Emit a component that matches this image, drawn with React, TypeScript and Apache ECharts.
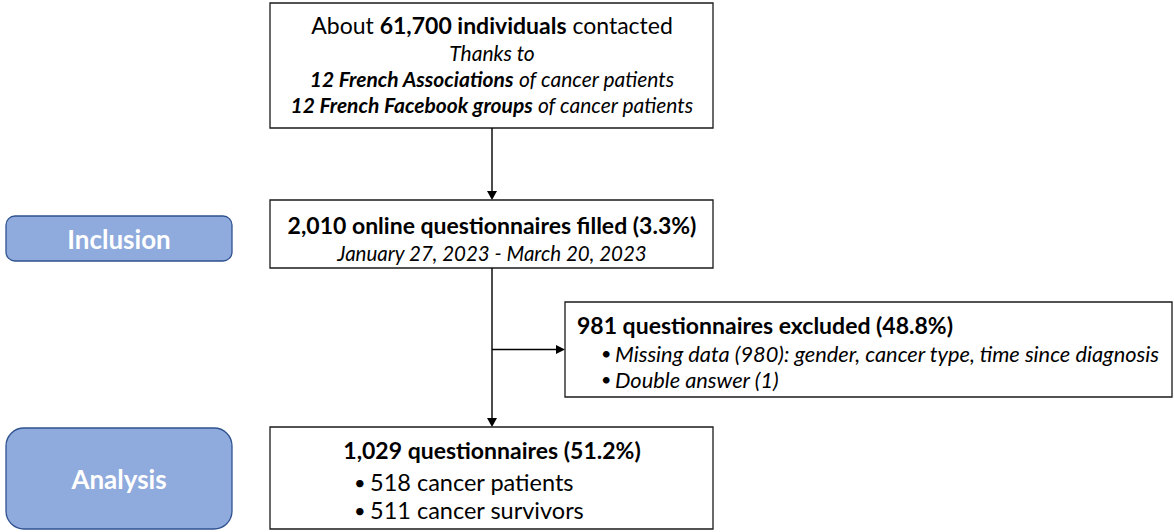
import React, { useEffect, useRef } from "react";
import * as echarts from "echarts";

// ---- Content ----
const topLines = [
  "{n|About }{b|61,700 individuals}{n| contacted}",
  "{i|Thanks to}",
  "{bi|12 French Associations}{i| of cancer patients}",
  "{bi|12 French Facebook groups}{i| of cancer patients}",
];
const inclusionLines = [
  "{b|2,010 online questionnaires filled (3.3%)}",
  "{d|January 27, 2023 - March 20, 2023}",
];
const excludedTitle = "981 questionnaires excluded (48.8%)";
const excludedItems = [
  "Missing data (980): gender, cancer type, time since diagnosis",
  "Double answer (1)",
];
const analysisTitle = "1,029 questionnaires (51.2%)";
const analysisItems = ["518 cancer patients", "511 cancer survivors"];
const stageLabels = ["Inclusion", "Analysis"];

const FONT = "Lato, 'Noto Sans', sans-serif";
const richStyles = {
  n: { fontFamily: FONT, fontSize: 23, fill: "#000", fontWeight: "normal" },
  b: { fontFamily: FONT, fontSize: 23, fill: "#000", fontWeight: "bold" },
  i: { fontFamily: FONT, fontSize: 21, fill: "#000", fontStyle: "italic" },
  d: { fontFamily: FONT, fontSize: 20.5, fill: "#000", fontStyle: "italic" },
  bi: { fontFamily: FONT, fontSize: 21, fill: "#000", fontStyle: "italic", fontWeight: "bold" },
};

function App() {
  const ref = useRef<HTMLDivElement>(null);
  useEffect(() => {
    document.body.style.margin = "0";
    const chart = echarts.init(ref.current!, null, { renderer: "svg" });
    const stroke = "#1a1a1a";
    const box = (x: number, y: number, w: number, h: number) => ({
      type: "rect",
      shape: { x, y, width: w, height: h },
      style: { fill: "#fff", stroke, lineWidth: 1.3 },
    });
    const line = (x1: number, y1: number, x2: number, y2: number) => ({
      type: "line",
      shape: { x1, y1, x2, y2 },
      style: { stroke: "#000", lineWidth: 1.4 },
    });
    const richLine = (txt: string, x: number, y: number, align = "center") => ({
      type: "text",
      x,
      y,
      style: {
        text: txt,
        rich: richStyles,
        align,
        verticalAlign: "middle",
      },
    });
    const plain = (txt: string, x: number, y: number, size: number, opts: any = {}) => ({
      type: "text",
      x,
      y,
      style: {
        text: txt,
        fontFamily: FONT,
        fontSize: size,
        fill: "#000",
        align: "left",
        verticalAlign: "middle",
        ...opts,
      },
    });
    const stage = (label: string, x: number, y: number, w: number, h: number, r: number) => [
      {
        type: "rect",
        shape: { x, y, width: w, height: h, r },
        style: { fill: "#8FAADC", stroke: "#2F528F", lineWidth: 1.3 },
      },
      {
        type: "text",
        x: x + w / 2,
        y: y + h / 2,
        style: {
          text: label,
          fontFamily: FONT,
          fontSize: 26,
          fontWeight: "bold",
          fill: "#fff",
          align: "center",
          verticalAlign: "middle",
        },
      },
    ];

    const topY = [25, 52, 78, 104];
    const elements: any[] = [
      box(270, 3, 443, 125),
      ...topLines.map((t, k) => richLine(t, 492, topY[k])),
      line(492, 128, 492, 193),
      { type: "polygon", shape: { points: [[487, 191], [497, 191], [492, 200]] }, style: { fill: "#000" } },
      box(270, 200, 443, 68),
      richLine(inclusionLines[0], 492, 225),
      richLine(inclusionLines[1], 492, 253),
      line(492, 268, 492, 420),
      { type: "polygon", shape: { points: [[487, 418], [497, 418], [492, 427]] }, style: { fill: "#000" } },
      line(492, 349.5, 558, 349.5),
      { type: "polygon", shape: { points: [[556, 345], [556, 354], [565, 349.5]] }, style: { fill: "#000" } },
      box(565, 302, 607, 95),
      plain(excludedTitle, 577, 325, 23, { fontWeight: "bold" }),
      ...excludedItems.flatMap((t, k) => [
        plain("•", 601, 353 + k * 26, 18),
        plain(t, 615, 353 + k * 26, 21.8, { fontStyle: "italic" }),
      ]),
      box(270, 427, 443, 102),
      richLine("{b|" + analysisTitle + "}", 492, 450),
      ...analysisItems.flatMap((t, k) => [
        plain("•", 354, 482 + k * 28, 20),
        plain(t, 370, 482 + k * 28, 23.5),
      ]),
      ...stage(stageLabels[0], 6, 216, 226, 45, 9),
      ...stage(stageLabels[1], 6, 428, 226, 101, 18),
    ];

    chart.setOption({ animation: false, graphic: { elements } });
    return () => chart.dispose();
  }, []);
  return <div ref={ref} style={{ width: 1174, height: 532, background: "#fff" }} />;
}

export default App;
